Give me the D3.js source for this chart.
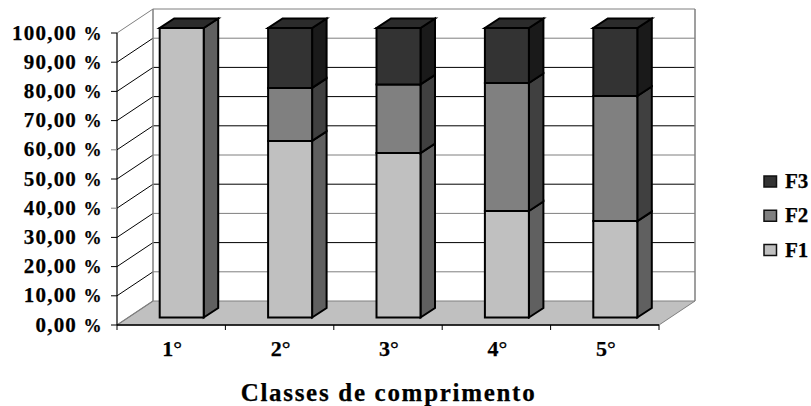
<!DOCTYPE html>
<html><head><meta charset="utf-8">
<style>html,body{margin:0;padding:0;background:#fff}svg{display:block}text{font-family:"Liberation Serif",serif;font-weight:bold;fill:#000;stroke:#000;stroke-width:.25px}</style>
<script src="https://cdn.jsdelivr.net/npm/d3@7"></script></head><body>
<script>
const categories=["1°","2°","3°","4°","5°"];
const seriesNames=["F1","F2","F3"];
const f1=[100,61,56.8,36.8,33.3];
const f2=[0,18.3,23.7,44.2,43.2];
const f3=[0,20.7,19.5,19,23.5];
const ticks=[0,10,20,30,40,50,60,70,80,90,100];
const tickNumbers=["0,00","10,00","20,00","30,00","40,00","50,00","60,00","70,00","80,00","90,00","100,00"];
const greyGrid=[10,30,50,90,100];
const greyTicks=[40,60];
const front=["#c0c0c0","#808080","#333333"],side=["#606060","#404040","#1a1a1a"];

const svg=d3.select("body").append("svg").attr("width",811).attr("height",406);
const x=d3.scaleBand().domain(categories).range([117,659]);
const yFront=d3.scaleLinear().domain([0,100]).range([325,33]);
const DX=36,DY=-24;
const yBar=d3.scaleLinear().domain([0,100]).range([317.5,28]);
const bw=44,bdx=14.5,bdy=-9.5,bo=10.5;

const poly=(pts,fill,stroke,sw)=>svg.append("polygon").attr("points",pts.map(p=>p.join(",")).join(" ")).attr("fill",fill).attr("stroke",stroke).attr("stroke-width",sw).attr("stroke-linejoin","miter");
const line=(a,b,c,w)=>svg.append("line").attr("x1",a[0]).attr("y1",a[1]).attr("x2",b[0]).attr("y2",b[1]).attr("stroke",c).attr("stroke-width",w);

poly([[117,325],[659,325],[695,301],[153,301]],"#c0c0c0","#808080",1);
const back=v=>yFront(v)+DY;
ticks.forEach(v=>{
  if(v>0){
    line([153,back(v)],[695,back(v)],greyGrid.includes(v)?"#7f7f7f":"#000",1);
    line([117,yFront(v)],[153,back(v)],v===100?"#7f7f7f":"#000",1);
  }
});
line([153,back(0)],[153,back(100)],"#7f7f7f",1.5);
line([695,back(0)],[695,back(100)],"#7f7f7f",1.5);
line([117,325],[153,301],"#7f7f7f",1.2);
line([117,yFront(0)],[117,yFront(100)],"#000",1.2);
line([117,325],[659,325],"#000",1.6);
ticks.forEach((v,i)=>{
  line([111,yFront(v)],[117,yFront(v)],greyTicks.includes(v)?"#7f7f7f":"#000",1);
  const t=svg.append("text").attr("x",101.5).attr("y",yFront(v)+6.5).attr("text-anchor","end").attr("font-size",21);
  t.append("tspan").attr("letter-spacing",1.2).text(tickNumbers[i]+" ");
  t.append("tspan").attr("font-size",18).text("%");
});
[...categories.keys(),5].forEach(i=>{
  const px=i<5?x(categories[i]):x.range()[1];
  line([px,325],[px,330],"#000",1);
});
categories.forEach((c,i)=>{
  const x0=x(c)+x.bandwidth()/2-bw/2+bo;
  let acc=0;
  [f1,f2,f3].forEach((s,k)=>{
    const v=s[i]; if(!v) return;
    const y0=yBar(acc),y1=yBar(acc+v);acc+=v;
    poly([[x0+bw,y0],[x0+bw+bdx,y0+bdy],[x0+bw+bdx,y1+bdy],[x0+bw,y1]],side[k],"#000",2);
    poly([[x0,y0],[x0+bw,y0],[x0+bw,y1],[x0,y1]],front[k],"#000",2);
  });
  const yt=yBar(acc);
  poly([[x0,yt],[x0+bw,yt],[x0+bw+bdx,yt+bdy],[x0+bdx,yt+bdy]],"#2b2b2b","#000",2);
  svg.append("text").attr("x",x(c)+x.bandwidth()/2+1).attr("y",356).attr("text-anchor","middle").attr("font-size",22).text(c);
});
svg.append("text").attr("x",388.5).attr("y",401).attr("text-anchor","middle").attr("font-size",25).attr("letter-spacing",1.7).text("Classes de comprimento");
const ly=d3.scalePoint().domain(["F3","F2","F1"]).range([181.5,250]);
seriesNames.forEach((n,k)=>{
  const y=ly(n);
  svg.append("rect").attr("x",764).attr("y",y-5.5).attr("width",12.5).attr("height",11).attr("fill",front[k]).attr("stroke","#111").attr("stroke-width",1.5);
  svg.append("text").attr("x",785).attr("y",y+6.5).attr("font-size",21).text(n);
});
</script></body></html>
